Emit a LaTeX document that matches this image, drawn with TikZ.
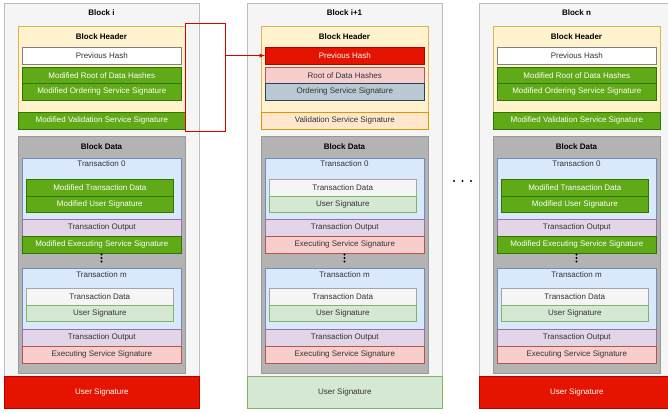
\documentclass[tikz,border=0pt]{standalone}
\usepackage{fontspec}
\setmainfont{Liberation Sans}
\usepackage{tikz}
\usetikzlibrary{arrows,shapes}
\usepackage{xcolor}

\definecolor{outerfill}{HTML}{F5F5F5}
\definecolor{outerline}{HTML}{BDBDBD}
\definecolor{hdrfill}{HTML}{FFF2CC}
\definecolor{hdrline}{HTML}{D6B656}
\definecolor{greenfill}{HTML}{60A917}
\definecolor{greenline}{HTML}{2D7600}
\definecolor{redfill}{HTML}{E51400}
\definecolor{redline}{HTML}{B20000}
\definecolor{pinkfill}{HTML}{F8CECC}
\definecolor{pinkline}{HTML}{B85450}
\definecolor{slatefill}{HTML}{BAC8D3}
\definecolor{slateline}{HTML}{23445D}
\definecolor{orangefill}{HTML}{FFE6CC}
\definecolor{orangeline}{HTML}{D79B00}
\definecolor{datafill}{HTML}{B3B3B3}
\definecolor{dataline}{HTML}{999999}
\definecolor{txfill}{HTML}{DAE8FC}
\definecolor{txline}{HTML}{6C8EBF}
\definecolor{lgreenfill}{HTML}{D5E8D4}
\definecolor{lgreenline}{HTML}{82B366}
\definecolor{purplefill}{HTML}{E1D5E7}
\definecolor{purpleline}{HTML}{9673A6}
\definecolor{graytext}{HTML}{333333}

\tikzset{
  every node/.style={font=\fontsize{8}{9.6}\selectfont, text=graytext, inner sep=0pt},
  cell/.style={draw, rectangle, anchor=north west, line width=0.6pt},
  titletxt/.style={font=\fontsize{8}{9.6}\selectfont\bfseries, text=black},
  roww/.style={minimum width=159pt, minimum height=16.5pt},
  headw/.style={minimum width=167pt, minimum height=16.5pt},
  subw/.style={minimum width=147pt, minimum height=16.5pt},
  outerbox/.style={fill=outerfill, draw=outerline},
  hdrbox/.style={fill=hdrfill, draw=hdrline},
  plainbox/.style={fill=white, draw=gray},
  modbox/.style={fill=greenfill, draw=greenline, text=white},
  redbox/.style={fill=redfill, draw=redline, text=white},
  pinkbox/.style={fill=pinkfill, draw=pinkline},
  slatebox/.style={fill=slatefill, draw=slateline},
  orangebox/.style={fill=orangefill, draw=orangeline},
  databox/.style={fill=datafill, draw=dataline},
  txbox/.style={fill=txfill, draw=txline},
  lgraybox/.style={fill=outerfill, draw=gray!70},
  lgreenbox/.style={fill=lgreenfill, draw=lgreenline},
  purplebox/.style={fill=purplefill, draw=purpleline},
  linkline/.style={draw=red!85!black, line width=0.9pt},
}

\begin{document}
\begin{tikzpicture}[x=1pt, y=-1pt]
    \useasboundingbox (0,0) rectangle (668,413);
    \clip (0,0) rectangle (668,413);

    % modified blocks
    \foreach \nm/\ttl/\dx in {i/Block i/0, n/Block n/475} {
      \begin{scope}[xshift=\dx pt]
        \node[cell, outerbox, minimum width=195pt, minimum height=373pt] (blk-\nm) at (4,3) {};
        \node[titletxt] (ttl-\nm) at (101.5,13) {\ttl};
        \node[cell, hdrbox, minimum width=167pt, minimum height=86pt] (hdr-\nm) at (18,26) {};
        \node[titletxt] (hdrttl-\nm) at (101.5,37) {Block Header};
        \node[cell, plainbox, roww] (prev-\nm) at (22,47) {Previous Hash};
        \node[cell, modbox, roww] (root-\nm) at (22,67) {Modified Root of Data Hashes};
        \node[cell, modbox, roww] (ord-\nm) at (22,83) {Modified Ordering Service Signature};
        \node[cell, modbox, headw] (val-\nm) at (18,112) {Modified Validation Service Signature};

        \node[cell, databox, minimum width=167pt, minimum height=237pt] (data-\nm) at (18,136) {};
        \node[titletxt] (datattl-\nm) at (101.5,147) {Block Data};
        \node[cell, txbox, roww, minimum height=61pt] (tx0-\nm) at (22,158) {};
        \node (tx0ttl-\nm) at (101.5,164) {Transaction 0};
        \node[cell, modbox, subw] (txd0-\nm) at (26,179) {Modified Transaction Data};
        \node[cell, modbox, subw] (us0-\nm) at (26,195.5) {Modified User Signature};
        \node[cell, purplebox, roww, minimum height=17pt] (out0-\nm) at (22,219) {Transaction Output};
        \node[cell, modbox, roww, minimum height=17pt] (exe0-\nm) at (22,236) {Modified Executing Service Signature};
        \fill (101.5,254.5) circle (1.1pt) (101.5,258) circle (1.1pt) (101.5,261.5) circle (1.1pt);
        \node[cell, txbox, roww, minimum height=61pt] (txm-\nm) at (22,268) {};
        \node (txmttl-\nm) at (101.5,275) {Transaction m};
        \node[cell, lgraybox, subw] (txdm-\nm) at (26,288) {Transaction Data};
        \node[cell, lgreenbox, subw] (usm-\nm) at (26,304.5) {User Signature};
        \node[cell, purplebox, roww, minimum height=17pt] (outm-\nm) at (22,329) {Transaction Output};
        \node[cell, pinkbox, roww, minimum height=17pt] (exem-\nm) at (22,346) {Executing Service Signature};

        \node[cell, redbox, minimum width=195pt, minimum height=32pt] (sig-\nm) at (4,376) {User Signature};
      \end{scope}
    }

    % original block i+1
    \begin{scope}[xshift=243pt]
        \node[cell, outerbox, minimum width=195pt, minimum height=373pt] (blk-ip) at (4,3) {};
        \node[titletxt] (ttl-ip) at (101.5,13) {Block i+1};
        \node[cell, hdrbox, minimum width=167pt, minimum height=86pt] (hdr-ip) at (18,26) {};
        \node[titletxt] (hdrttl-ip) at (101.5,37) {Block Header};
        \node[cell, redbox, roww] (prev-ip) at (22,47) {Previous Hash};
        \node[cell, pinkbox, roww] (root-ip) at (22,67) {Root of Data Hashes};
        \node[cell, slatebox, roww] (ord-ip) at (22,83) {Ordering Service Signature};
        \node[cell, orangebox, headw] (val-ip) at (18,112) {Validation Service Signature};

        \node[cell, databox, minimum width=167pt, minimum height=237pt] (data-ip) at (18,136) {};
        \node[titletxt] (datattl-ip) at (101.5,147) {Block Data};
        \node[cell, txbox, roww, minimum height=61pt] (tx0-ip) at (22,158) {};
        \node (tx0ttl-ip) at (101.5,164) {Transaction 0};
        \node[cell, lgraybox, subw] (txd0-ip) at (26,179) {Transaction Data};
        \node[cell, lgreenbox, subw] (us0-ip) at (26,195.5) {User Signature};
        \node[cell, purplebox, roww, minimum height=17pt] (out0-ip) at (22,219) {Transaction Output};
        \node[cell, pinkbox, roww, minimum height=17pt] (exe0-ip) at (22,236) {Executing Service Signature};
        \fill (101.5,254.5) circle (1.1pt) (101.5,258) circle (1.1pt) (101.5,261.5) circle (1.1pt);
        \node[cell, txbox, roww, minimum height=61pt] (txm-ip) at (22,268) {};
        \node (txmttl-ip) at (101.5,275) {Transaction m};
        \node[cell, lgraybox, subw] (txdm-ip) at (26,288) {Transaction Data};
        \node[cell, lgreenbox, subw] (usm-ip) at (26,304.5) {User Signature};
        \node[cell, purplebox, roww, minimum height=17pt] (outm-ip) at (22,329) {Transaction Output};
        \node[cell, pinkbox, roww, minimum height=17pt] (exem-ip) at (22,346) {Executing Service Signature};

        \node[cell, lgreenbox, minimum width=195pt, minimum height=32pt] (sig-ip) at (4,376) {User Signature};
    \end{scope}

    % dots between the blocks
    \fill (454,181) circle (1.2pt) (462.5,181) circle (1.2pt) (471,181) circle (1.2pt);

    % link from the header of block i to the previous hash of block i+1
    \coordinate (lnk-nw) at (185,23);
    \coordinate (lnk-se) at (225,131);
    \draw[linkline] (lnk-nw) -- (lnk-nw -| lnk-se) -- (lnk-se) -- (lnk-se -| lnk-nw) -- cycle;
    \draw[linkline, -latex] (lnk-se |- prev-ip.west) -- (prev-ip.west);
\end{tikzpicture}
\end{document}
